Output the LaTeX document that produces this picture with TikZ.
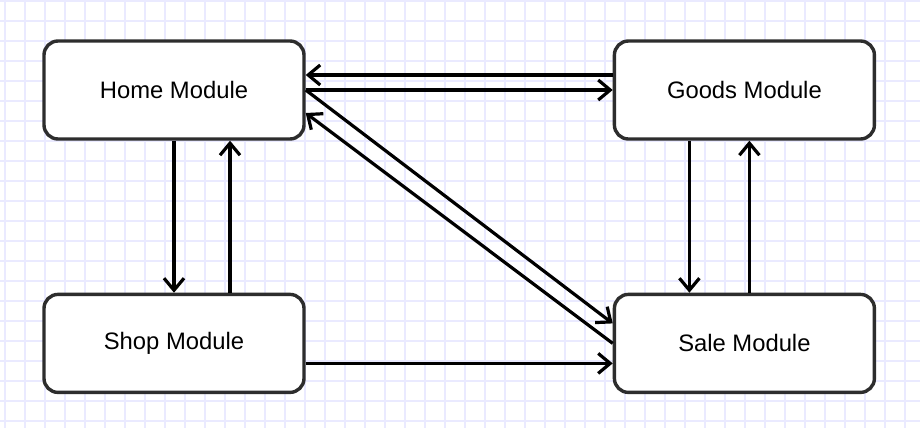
\documentclass[tikz,border=0pt]{standalone}
\usepackage{fontspec}
\setmainfont{Liberation Sans}
\usetikzlibrary{arrows.meta,positioning}
\definecolor{gridline}{RGB}{234,234,255}
\definecolor{boxline}{RGB}{45,45,45}
\begin{document}
\begin{tikzpicture}[x=0.5pt, y=-0.5pt, node distance=76pt and 153.5pt, every node/.style={font=\fontsize{11.9}{14}\selectfont}, module/.style={draw=boxline,fill=white,line width=1.7pt,rounded corners=7pt,minimum width=130pt,minimum height=49pt,inner sep=0pt}, arr/.style={-{Straight Barb[length=6pt,width=10pt]},line width=1.6pt,black}]
\useasboundingbox[fill=white] (0,0) rectangle (920,428);
% background grid
\foreach \gx in {5,25,...,905} \draw[gridline,line width=0.55pt] (\gx,0) -- (\gx,428);
\foreach \gy in {1,21,...,421} \draw[gridline,line width=0.55pt] (0,\gy) -- (920,\gy);
\node[module] (home) at (174,90) {Home Module};
\node[module,right=of home] (goods) {Goods Module};
\node[module,below=of home] (shop) {Shop Module};
\node[module,below=of goods] (sale) {Sale Module};
\draw[arr] (home.east) -- (goods.west);
\draw[arr] ([yshift=7.5pt]goods.west) -- ([yshift=7.5pt]home.east);
\draw[arr] (home.south) -- (shop.north);
\draw[arr] ([xshift=28pt]shop.north) -- ([xshift=28pt]home.south);
\draw[arr] ([xshift=-27.5pt]goods.south) -- ([xshift=-27.5pt]sale.north);
\draw[arr] ([xshift=2.5pt]sale.north) -- ([xshift=2.5pt]goods.south);
\draw[arr] ([yshift=-10pt]shop.east) -- ([yshift=-10pt]sale.west);
\draw[arr] (home.east) -- ([yshift=10pt]sale.west);
\draw[arr] (sale.west) -- ([yshift=-11.5pt]home.east);
\end{tikzpicture}
\end{document}
